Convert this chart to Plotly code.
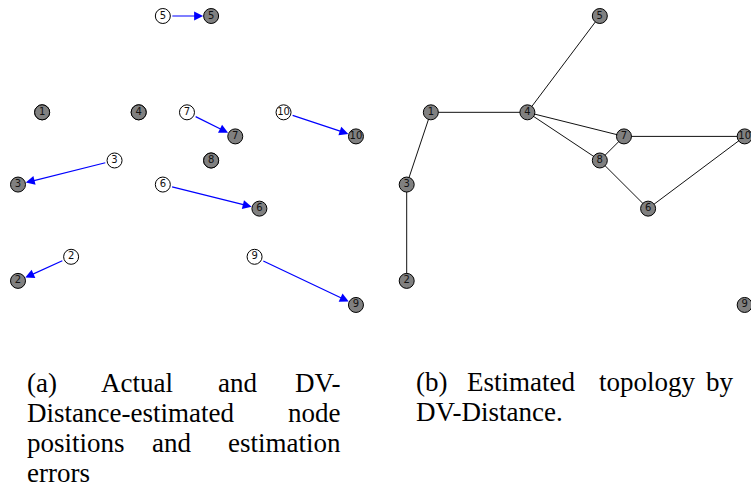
import plotly.graph_objects as go

# ---- data -------------------------------------------------------------
node_ids = ["1", "2", "3", "4", "5", "6", "7", "8", "9", "10"]

# actual node positions (grid units, y pointing up)
actual_x = [1, 0, 0, 5, 8, 10, 9, 8, 14, 14]
actual_y = [8, 1, 5, 8, 12, 4, 7, 6, 0, 7]

# positions estimated by DV-Distance
est_x = [1, 2.2, 4, 5, 6, 6, 7, 8, 9.8, 11]
est_y = [8, 2, 6, 8, 12, 5, 8, 6, 2, 8]

# links of the estimated topology
edges = [("1", "4"), ("1", "3"), ("3", "2"), ("4", "5"), ("4", "7"),
         ("4", "8"), ("7", "8"), ("7", "10"), ("8", "6"), ("6", "10")]

# captions, one list of words per line
caption_a = [["(a)", "Actual", "and", "DV-"],
             ["Distance-estimated", "node"],
             ["positions", "and", "estimation"],
             ["errors"]]
caption_b = [["(b)", "Estimated", "topology", "by"],
             ["DV-Distance."]]

# ---- layout constants (pixels) ----------------------------------------
W, H = 751, 492
UNIT_X, UNIT_Y = 24.14, 24.08     # pixels per grid unit
PLOT_BOTTOM = 330                 # bottom edge of both drawing areas
TOP_PAD = 16                      # y=12 sits this far below the top
LEFT_PAD = 18                     # x=0 sits this far right of the panel edge
PANEL_A = (0, 380)
PANEL_B = (388.7, W)

# word placement: (x pixel, anchor) per word, and baseline per line
caption_a_pos = [[(25, "left"), (137, "center"), (238, "center"), (343, "right")],
                 [(25, "left"), (343, "right")],
                 [(25, "left"), (171, "center"), (343, "right")],
                 [(25, "left")]]
caption_a_base = [393, 423, 453, 483]
caption_b_pos = [[(414, "left"), (521, "center"), (647, "center"), (736, "right")],
                 [(414, "left")]]
caption_b_base = [392, 422]

NODE_SIZE = 15
GRAY = "#808080"
LABEL_FONT = dict(family="DejaVu Sans", size=10, color="#111111")
CAPTION_FONT = dict(family="Liberation Serif", size=27, color="#000000")

pos = {n: (x, y) for n, x, y in zip(node_ids, actual_x, actual_y)}

fig = go.Figure()

# ---- panel (a): estimated -> actual --------------------------------------
fig.add_trace(go.Scatter(
    x=est_x, y=est_y, mode="markers+text", text=node_ids,
    textposition="middle center", textfont=LABEL_FONT,
    marker=dict(size=NODE_SIZE, color="white", line=dict(color="black", width=1)),
    xaxis="x", yaxis="y", hoverinfo="skip", showlegend=False))
fig.add_trace(go.Scatter(
    x=actual_x, y=actual_y, mode="markers+text", text=node_ids,
    textposition="middle center", textfont=LABEL_FONT,
    marker=dict(size=NODE_SIZE, color=GRAY, line=dict(color="black", width=1)),
    xaxis="x", yaxis="y", hoverinfo="skip", showlegend=False))

annotations = []
for ex, ey, tx, ty in zip(est_x, est_y, actual_x, actual_y):
    if (ex, ey) == (tx, ty):
        continue
    annotations.append(dict(
        x=tx, y=ty, ax=ex, ay=ey, xref="x", yref="y", axref="x", ayref="y",
        text="", showarrow=True, arrowhead=2, arrowsize=1.5, arrowwidth=1.2,
        arrowcolor="#0000ff", standoff=NODE_SIZE / 2 + 0.5,
        startstandoff=NODE_SIZE / 2 + 0.5))

# ---- panel (b): estimated topology -------------------------------------
ex_line, ey_line = [], []
for a, b in edges:
    ex_line += [pos[a][0], pos[b][0], None]
    ey_line += [pos[a][1], pos[b][1], None]
fig.add_trace(go.Scatter(
    x=ex_line, y=ey_line, mode="lines", line=dict(color="#111111", width=1),
    xaxis="x2", yaxis="y2", hoverinfo="skip", showlegend=False))
fig.add_trace(go.Scatter(
    x=actual_x, y=actual_y, mode="markers+text", text=node_ids,
    textposition="middle center", textfont=LABEL_FONT,
    marker=dict(size=NODE_SIZE, color=GRAY, line=dict(color="black", width=1)),
    xaxis="x2", yaxis="y2", hoverinfo="skip", showlegend=False))

# ---- captions ------------------------------------------------------------
def add_caption(lines, places, baselines):
    for words, spots, base in zip(lines, places, baselines):
        for word, (px, anchor) in zip(words, spots):
            annotations.append(dict(
                text=word, x=px / W, y=1 - (base - 10) / H,
                xref="paper", yref="paper", xanchor=anchor, yanchor="middle",
                showarrow=False, font=CAPTION_FONT))

add_caption(caption_a, caption_a_pos, caption_a_base)
add_caption(caption_b, caption_b_pos, caption_b_base)

# ---- axes ------------------------------------------------------------------
y_top = 12 + TOP_PAD / UNIT_Y
y_bot = 12 - (PLOT_BOTTOM - TOP_PAD) / UNIT_Y
x0 = -LEFT_PAD / UNIT_X

def hidden(**kw):
    return dict(visible=False, showgrid=False, zeroline=False, fixedrange=True, **kw)

fig.update_layout(
    width=W, height=H,
    margin=dict(l=0, r=0, t=0, b=0),
    paper_bgcolor="white", plot_bgcolor="white",
    xaxis=hidden(domain=[PANEL_A[0] / W, PANEL_A[1] / W],
                 range=[x0, x0 + (PANEL_A[1] - PANEL_A[0]) / UNIT_X]),
    yaxis=hidden(domain=[1 - PLOT_BOTTOM / H, 1], range=[y_bot, y_top]),
    xaxis2=hidden(domain=[PANEL_B[0] / W, PANEL_B[1] / W],
                  range=[x0, x0 + (PANEL_B[1] - PANEL_B[0]) / UNIT_X], anchor="y2"),
    yaxis2=hidden(domain=[1 - PLOT_BOTTOM / H, 1], range=[y_bot, y_top], anchor="x2"),
    annotations=annotations,
)

fig.write_html("out.html")
